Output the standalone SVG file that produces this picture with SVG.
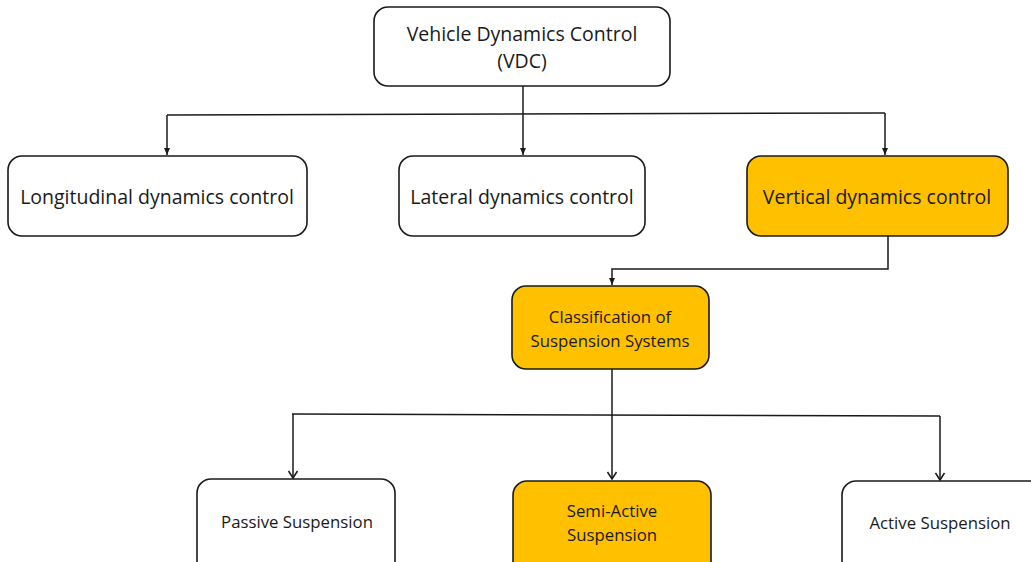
<svg xmlns="http://www.w3.org/2000/svg" width="1031" height="562" viewBox="0 0 1031 562">
  <style>
    .box { fill: #ffffff; stroke: #1a1a1a; stroke-width: 1.6; }
    .hl { fill: #ffc000; }
    .lbl { font-family: "Open Sans", "Liberation Sans", sans-serif; fill: #1a1a1a; text-anchor: middle; dominant-baseline: central; }
    .big { font-size: 19.5px; }
    .small { font-size: 16.8px; }
    .wire { fill: none; stroke: #1a1a1a; stroke-width: 1.5; }
  </style>
  <defs>
    <!-- small solid head for the upper tiers -->
    <marker id="tri" markerWidth="8" markerHeight="8" refX="7" refY="3.5" orient="auto" markerUnits="userSpaceOnUse">
      <path d="M0,0.5 L7,3.5 L0,6.5 Z" fill="#1a1a1a"/>
    </marker>
    <!-- open chevron head for the lower tier -->
    <marker id="vee" markerWidth="12" markerHeight="12" refX="10" refY="6" orient="auto" markerUnits="userSpaceOnUse">
      <path d="M3,1.5 L10,6 L3,10.5" fill="none" stroke="#1a1a1a" stroke-width="1.5"/>
    </marker>
  </defs>

  <g id="connectors">
    <!-- top level fan-out -->
    <path class="wire" d="M523,86 V155" marker-end="url(#tri)"/>
    <path class="wire" d="M167,115 L885,113"/>
    <path class="wire" d="M167,115 V155" marker-end="url(#tri)"/>
    <path class="wire" d="M885,113 V155" marker-end="url(#tri)"/>
    <!-- vertical dynamics to classification -->
    <path class="wire" d="M888,236 V269 H612 V285" marker-end="url(#tri)"/>
    <!-- classification fan-out -->
    <path class="wire" d="M612,369 V479" marker-end="url(#vee)"/>
    <path class="wire" d="M292,414 L940,416"/>
    <path class="wire" d="M293,414 V478" marker-end="url(#vee)"/>
    <path class="wire" d="M940,416 V480" marker-end="url(#vee)"/>
  </g>

  <g id="vdc">
    <rect class="box" x="374" y="7" width="296" height="79" rx="14"/>
    <text class="lbl big" x="522" y="33">Vehicle Dynamics Control</text>
    <text class="lbl big" x="522" y="60">(VDC)</text>
  </g>

  <g id="longitudinal">
    <rect class="box" x="8" y="156" width="299" height="80" rx="14"/>
    <text class="lbl big" x="157" y="196">Longitudinal dynamics control</text>
  </g>

  <g id="lateral">
    <rect class="box" x="399" y="156" width="246" height="80" rx="14"/>
    <text class="lbl big" x="522" y="196">Lateral dynamics control</text>
  </g>

  <g id="vertical">
    <rect class="box hl" x="747" y="156" width="261" height="80" rx="14"/>
    <text class="lbl big" x="877" y="196">Vertical dynamics control</text>
  </g>

  <g id="classification">
    <rect class="box hl" x="512" y="286" width="197" height="83" rx="14"/>
    <text class="lbl small" x="610" y="316">Classification of</text>
    <text class="lbl small" x="610" y="340">Suspension Systems</text>
  </g>

  <g id="passive">
    <rect class="box" x="197" y="479" width="198" height="100" rx="14"/>
    <text class="lbl small" x="297" y="521">Passive Suspension</text>
  </g>

  <g id="semi-active">
    <rect class="box hl" x="513" y="481" width="198" height="100" rx="14"/>
    <text class="lbl small" x="612" y="510">Semi-Active</text>
    <text class="lbl small" x="612" y="534">Suspension</text>
  </g>

  <g id="active">
    <rect class="box" x="842" y="481" width="210" height="100" rx="14"/>
    <text class="lbl small" x="940" y="522">Active Suspension</text>
  </g>
</svg>
